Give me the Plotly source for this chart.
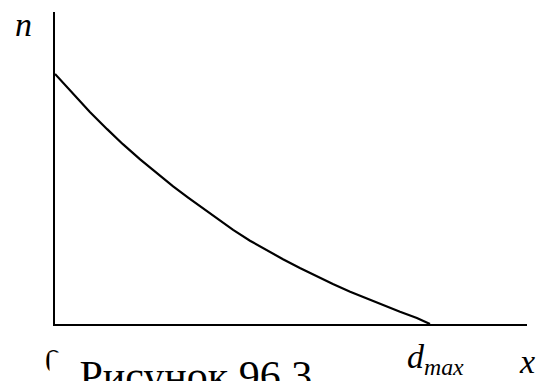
import plotly.graph_objects as go

# Distribution n(x): falls from n0 at x = 0 to zero at x = d_max (d_max = 1)
x_vals = [0.0, 0.048, 0.093, 0.139, 0.181, 0.227, 0.272, 0.315, 0.355, 0.387,
          0.432, 0.475, 0.520, 0.565, 0.608, 0.653, 0.699, 0.741, 0.787, 0.832,
          0.875, 0.920, 0.965, 1.0]
n_vals = [1.0, 0.922, 0.848, 0.779, 0.719, 0.658, 0.602, 0.550, 0.505, 0.470,
          0.421, 0.376, 0.333, 0.294, 0.259, 0.224, 0.190, 0.160, 0.129, 0.101,
          0.075, 0.049, 0.024, 0.0]

W, H = 544, 381
L, R, T, B = 55, 527, 12, 324.5


def px(x):
    return (x - L) / (R - L)


def py(y):
    return (B - y) / (B - T)


serif = "Liberation Serif"

fig = go.Figure()
fig.add_trace(go.Scatter(x=x_vals, y=n_vals, mode="lines",
                         line=dict(color="black", width=2.2),
                         hoverinfo="skip", showlegend=False))

axis_common = dict(showline=True, linecolor="black", linewidth=2.2,
                   showgrid=False, zeroline=False, showticklabels=False,
                   ticks="", fixedrange=True)

fig.update_layout(
    width=W, height=H,
    margin=dict(l=L, r=W - R, t=T, b=H - B),
    paper_bgcolor="white", plot_bgcolor="white",
    xaxis=dict(range=[0, (R - L) / (430 - L)], **axis_common),
    yaxis=dict(range=[0, (B - T) / (B - 74)], **axis_common),
    font=dict(family=serif, color="black", size=34),
)


def label(text, x, y, size=34, **kw):
    fig.add_annotation(text=text, x=px(x), y=py(y), xref="paper", yref="paper",
                       showarrow=False,
                       font=dict(family=serif, size=size, color="black"), **kw)


label("<i>n</i>", 24, 25, xanchor="center", yanchor="middle")
label("<i>x</i>", 527, 362, xanchor="center", yanchor="middle")
label("<i>d<sub>max</sub></i>", 405, 360, xanchor="left", yanchor="middle")
label("0", 53, 361, xanchor="center", yanchor="middle")
label("&nbsp;&nbsp;&#8201;Рисунок 96.3", 49, 353, size=42,
      xanchor="left", yanchor="top", bgcolor="white", borderpad=0)

fig.write_html("out.html", config={"displayModeBar": False})
